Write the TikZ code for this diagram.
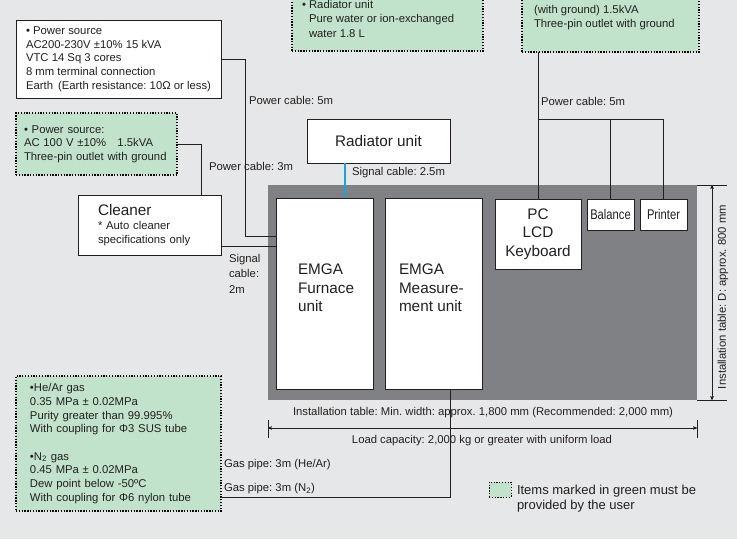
\documentclass[tikz,border=0pt]{standalone}
\usepackage{fontspec}
\setmainfont{Liberation Sans}
\usetikzlibrary{arrows,positioning}

\definecolor{bggray}{HTML}{E6E7E8}
\definecolor{usergreen}{HTML}{C2E3CB}
\definecolor{tablegray}{HTML}{808184}
\definecolor{sigblue}{HTML}{1BA1E2}
\definecolor{ink}{HTML}{231F20}

\newcommand{\emgatext}{\fontsize{11.3}{13.7}\selectfont}
\newcommand{\emgabig}{\fontsize{15.3}{18.6}\selectfont}
\newcommand{\emganarrow}[1]{\scalebox{0.8}[1]{\fontsize{14}{16}\selectfont #1}}

\begin{document}
\frenchspacing
\begin{tikzpicture}[x=1pt,y=-1pt,>=stealth',color=ink,
  every node/.style={inner sep=0pt,outer sep=0pt,text=ink,font=\emgatext},
  whitebox/.style={draw=ink,fill=white,line width=0.8pt,anchor=north west},
  userbox/.style={draw=black,fill=usergreen,line width=1.3pt,dash pattern=on 1.3pt off 1.5pt,anchor=north west},
  unit/.style={whitebox,align=center,font=\emgabig},
  cable/.style={draw=ink,line width=0.9pt},
  dim/.style={draw=ink,line width=0.5pt}]

\path[use as bounding box,fill=bggray] (0,0) rectangle (737,539);
\clip (0,0) rectangle (737,539);

% installation table and what stands on it
\node[fill=tablegray,minimum width=429,minimum height=215,anchor=north west] (tbl) at (268,185) {};
\node[whitebox,minimum width=97,minimum height=191] (furn) at (276,198) {};
\node[whitebox,minimum width=97,minimum height=191] (meas) at (385,198) {};
\node[font=\emgabig,align=left,anchor=west] (furntxt) at (298,288) {EMGA\\Furnace\\unit};
\node[font=\emgabig,align=left,anchor=west] (meastxt) at (399,288) {EMGA\\Measure-\\ment unit};
\node[unit,minimum width=86,minimum height=70] (pc) at (495,199) {PC\\LCD\\Keyboard};
\node[whitebox,minimum width=47,minimum height=31] (bal) at (587,199) {\emganarrow{Balance}};
\node[whitebox,minimum width=47,minimum height=31] (prn) at (640,199) {\emganarrow{Printer}};
\node[unit,minimum width=143,minimum height=44] (rad) at (307,119) {Radiator unit};

% supplies
\node[whitebox,minimum width=205,minimum height=78,align=left] (pwr) at (16,20)
  {\textbullet\ Power source\\AC200-230V ±10\% 15 kVA\\VTC 14 Sq 3 cores\\8 mm terminal connection\\Earth\hspace{5pt}(Earth resistance: 10Ω or less)};
\node[userbox,minimum height=62,text width=145,inner xsep=8pt,align=left] (ac100) at (16,113)
  {\textbullet\ Power source:\\AC 100 V ±10\%\quad 1.5kVA\\Three-pin outlet with ground};
\node[whitebox,minimum height=60,text width=103,inner xsep=20pt,align=left] (cleaner) at (78,195)
  {{\emgabig Cleaner}\\{*} Auto cleaner\\specifications only};
\node[userbox,minimum width=191,minimum height=80,anchor=south west] (radw) at (292,51) {};
\node[align=left,anchor=north west,font=\fontsize{11.3}{14.5}\selectfont] (radwtxt) at (302,0)
  {\textbullet\ Radiator unit\\\hspace*{7pt}Pure water or ion-exchanged\\\hspace*{7pt}water 1.8 L};
\node[userbox,minimum width=177,minimum height=80,anchor=south west] (pcw) at (522,52) {};
\node[align=left,anchor=north west] (pcwtxt) at (534,5.5)
  {(with ground) 1.5kVA\\Three-pin outlet with ground};
\node[userbox,minimum height=135,text width=177,inner xsep=14pt,align=left] (gas) at (16,376)
  {\textbullet{}He/Ar gas\\0.35 MPa ± 0.02MPa\\Purity greater than 99.995\%\\With coupling for Φ3 SUS tube\\[13.7pt]
   \textbullet{}N\textsubscript{2} gas\\0.45 MPa ± 0.02MPa\\Dew point below -50ºC\\With coupling for Φ6 nylon tube};

% cable ends
\coordinate (pwrin) at (276,236);
\coordinate (sigin) at (276,246);
\coordinate (radsig) at (345,180);
\coordinate (bus) at (538,119);
\coordinate (pipe) at (450,497);

\draw[cable] (pwr.east) -- ++(24,0) |- (pwrin);
\draw[cable] (ac100.east) -| ([xshift=52pt]cleaner.north);
\draw[cable] (cleaner.east |- sigin) -- (sigin);
\draw[sigblue,line width=1.6pt] (rad.south -| radsig) -- (furn.north -| radsig);
\draw[cable] (pcw.south -| pc.north) -- (pc.north);
\draw[cable] (bus) -| (prn.north);
\draw[cable] (bus -| bal.north) -- (bal.north);
\draw[cable] (meas.south -| pipe) -- (pipe) -- (gas.east |- pipe);

% cable labels
\node[anchor=west] (pc5a) at (249,100) {Power cable: 5m};
\node[anchor=west] (pc3) at (209,166) {Power cable: 3m};
\node[anchor=west] (sig25) at (352,173) {Signal cable: 2.5m};
\node[anchor=north west,align=left,font=\fontsize{11.3}{15.5}\selectfont] (sig2) at (229,254) {Signal\\cable:\\2m};
\node[anchor=west] (pc5b) at (541,101) {Power cable: 5m};
\node[anchor=west] (gas1) at (224,465) {Gas pipe: 3m (He/Ar)};
\node[anchor=west] (gas2) at (224,489) {Gas pipe: 3m (N\textsubscript{2})};

% table dimensions
\draw[dim] ([yshift=-20pt]tbl.south west) -- ++(0,18);
\draw[dim] ([yshift=-20pt]tbl.south east) -- ++(0,18);
\draw[dim,<->] ([yshift=-28pt]tbl.south west) -- ([yshift=-28pt]tbl.south east);
\draw[dim] (tbl.north east) -- ++(30,0);
\draw[dim] (tbl.south east) -- ++(30,0);
\draw[dim,<->] ([xshift=15pt]tbl.north east) -- ([xshift=15pt]tbl.south east);
\node (wlbl) at (483,413) {Installation table: Min. width: approx. 1,800 mm (Recommended: 2,000 mm)};
\node (load) at (482,441) {Load capacity: 2,000 kg or greater with uniform load};
\node[rotate=90] (dlbl) at (723,297) {Installation table: D: approx. 800 mm};

% key
\node[userbox,minimum width=22,minimum height=15,line width=1pt] (key) at (489,482) {};
\node[anchor=north west,align=left,font=\fontsize{13}{15}\selectfont] (keytxt) at (517,485)
  {Items marked in green must be\\provided by the user};
\end{tikzpicture}
\end{document}
